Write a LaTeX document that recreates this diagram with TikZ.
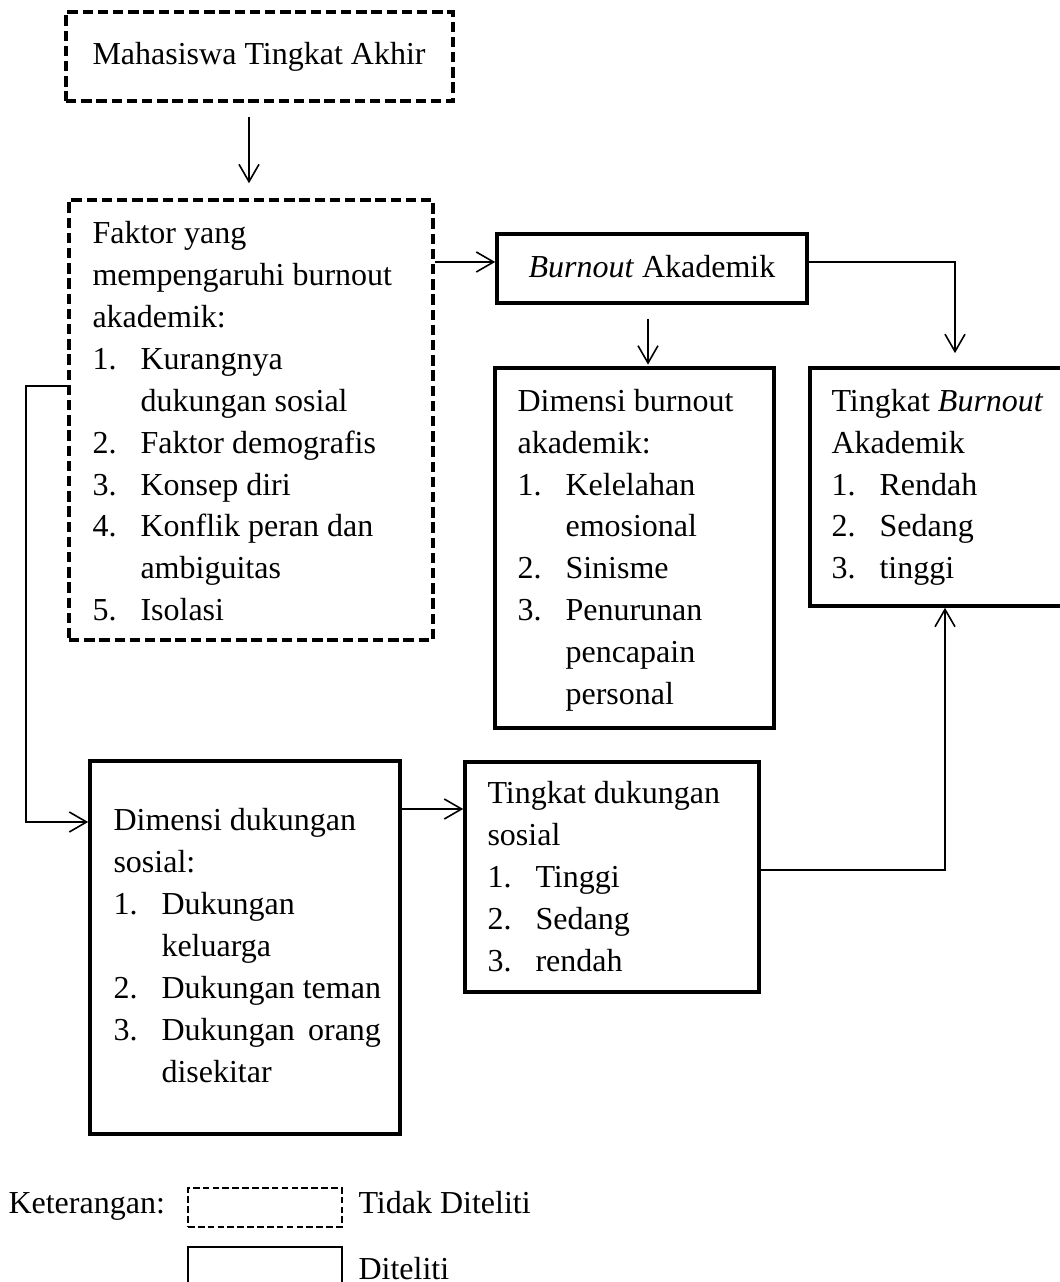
\documentclass[tikz,border=0pt]{standalone}
\usepackage{fontspec}
\setmainfont{Liberation Serif}
\usetikzlibrary{arrows.meta}
\newcommand\itm[2]{\makebox[18pt][l]{#1}#2}
\newcommand\cnt[1]{\hspace*{18pt}#1}
\begin{document}
\begin{tikzpicture}[x=0.375pt,y=-0.375pt,
  solidbox/.style={draw, line width=1.35pt, inner sep=0pt},
  dashbox/.style={draw, line width=1.35pt, dash pattern=on 3.9pt off 1.8pt, inner sep=0pt},
  legdash/.style={draw, line width=0.85pt, dash pattern=on 2.5pt off 1.2pt, inner sep=0pt},
  legsolid/.style={draw, line width=1pt, inner sep=0pt},
  txt/.style={inner sep=0pt, anchor=north west, align=left, font=\fontsize{12}{15.7}\selectfont},
  one/.style={inner sep=0pt, anchor=base west, font=\fontsize{12}{15.7}\selectfont},
  arr/.style={line width=0.6pt, -{Straight Barb[length=6.5pt,width=7.5pt]}},
]
\useasboundingbox (0,0) rectangle (1059,1282);

% boxes
\node[dashbox, minimum width=145.125pt, minimum height=33.375pt] (b1) at (259.5,56.5) {};
\node[dashbox, minimum width=136.5pt, minimum height=165pt] (b2) at (251,420) {};
\node[solidbox, minimum width=116.25pt, minimum height=25.875pt] (b3) at (652,268.5) {};
\node[solidbox, minimum width=104.625pt, minimum height=135pt] (b4) at (634.5,548) {};
\node[solidbox, minimum width=99.375pt, minimum height=89.25pt] (b5) at (942.5,487) {};
\node[solidbox, minimum width=110.25pt, minimum height=86.25pt] (b6) at (612,877) {};
\node[solidbox, minimum width=116.25pt, minimum height=139.875pt] (b7) at (245,947.5) {};

% texts
\node[one] (t1) at (92,65) {Mahasiswa Tingkat Akhir};
\node[txt] (t2) at (92,214) {\strut Faktor yang\\ mempengaruhi burnout\\ akademik:\\ \itm{1.}{Kurangnya}\\ \cnt{dukungan sosial}\\ \itm{2.}{Faktor demografis}\\ \itm{3.}{Konsep diri}\\ \itm{4.}{Konflik peran dan}\\ \cnt{ambiguitas}\\ \itm{5.}{Isolasi}};
\node[one] (t3) at (528,278) {\textit{Burnout} Akademik};
\node[txt] (t4) at (517,381.5) {\strut Dimensi burnout\\ akademik:\\ \itm{1.}{Kelelahan}\\ \cnt{emosional}\\ \itm{2.}{Sinisme}\\ \itm{3.}{Penurunan}\\ \cnt{pencapain}\\ \cnt{personal}};
\node[txt] (t5) at (831,381.5) {\strut Tingkat \textit{Burnout}\\ Akademik\\ \itm{1.}{Rendah}\\ \itm{2.}{Sedang}\\ \itm{3.}{tinggi}};
\node[txt] (t6) at (487,774) {\strut Tingkat dukungan\\ sosial\\ \itm{1.}{Tinggi}\\ \itm{2.}{Sedang}\\ \itm{3.}{rendah}};
\node[txt] (t7) at (113,801) {\strut Dimensi dukungan\\ sosial:\\ \itm{1.}{Dukungan}\\ \cnt{keluarga}\\ \itm{2.}{Dukungan teman}\\ \itm{3.}{\makebox[82.3pt][s]{Dukungan orang}}\\ \cnt{disekitar}};

% connector helpers
\coordinate (a1) at (249,0);
\coordinate (r1) at (0,262);
\coordinate (k1) at (955,0);
\coordinate (a4) at (648,0);
\coordinate (l1) at (0,386);
\coordinate (lp) at (26,822);
\coordinate (r6) at (0,809);
\coordinate (r7) at (0,870);
\coordinate (k7) at (945,0);

\draw[arr, shorten <=5.25pt, shorten >=5.6pt] (b1.south -| a1) -- (b2.north -| a1);
\draw[arr] (b2.east |- r1) -- (b3.west |- r1);
\draw[arr, shorten >=4.9pt] (b3.east |- r1) -| (b5.north -| k1);
\draw[arr, shorten <=5.25pt, shorten >=0.6pt] (b3.south -| a4) -- (b4.north -| a4);
\draw[arr] (b2.west |- l1) -| (lp) -- (b7.west |- lp);
\draw[arr] (b7.east |- r6) -- (b6.west |- r6);
\draw[arr] (b6.east |- r7) -| (b5.south -| k7);

% legend
\node[one] (k) at (8,1213) {Keterangan:};
\node[legdash, minimum width=57.75pt, minimum height=14.625pt] (lg1) at (265,1207.5) {};
\node[one] (lt1) at (358,1213) {Tidak Diteliti};
\node[legsolid, minimum width=57.75pt, minimum height=19.875pt] (lg2) at (265,1273.5) {};
\node[one] (lt2) at (358,1279) {Diteliti};
\end{tikzpicture}
\end{document}
